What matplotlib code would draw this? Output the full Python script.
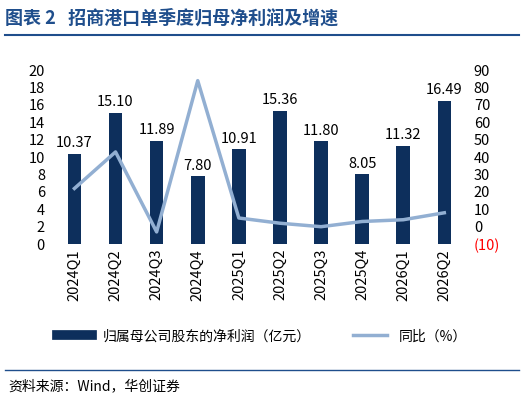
import matplotlib.pyplot as plt
from matplotlib.lines import Line2D

plt.rcParams['font.family'] = ['Noto Sans CJK SC', 'DejaVu Sans']

quarters = ['2024Q1', '2024Q2', '2024Q3', '2024Q4', '2025Q1', '2025Q2',
            '2025Q3', '2025Q4', '2026Q1', '2026Q2']
profit = [10.37, 15.10, 11.89, 7.80, 10.91, 15.36, 11.80, 8.05, 11.32, 16.49]
yoy = [22, 43, -3, 84, 5, 2, 0, 3, 4, 8]

bar_c = '#0D2F5C'
line_c = '#92AFD2'
title_c = '#1F4E8C'

fig = plt.figure(figsize=(5.24, 4.13), dpi=100)
ax = fig.add_axes([0.095, 0.409, 0.80, 0.421])
x = range(len(quarters))
ax.bar(x, profit, width=0.33, color=bar_c)
for i, v in enumerate(profit):
    ax.text(i, v + 0.4, f'{v:.2f}', ha='center', va='bottom', fontsize=10.5)
ax.set_ylim(0, 20)
ax.set_yticks(range(0, 21, 2))
ax.set_xlim(-0.6, len(quarters) - 0.4)
ax.set_xticks(list(x))
ax.set_xticklabels(quarters, rotation=90, fontsize=10)
for s in ax.spines.values():
    s.set_visible(False)
ax.tick_params(length=0, labelsize=10.5)

ax2 = ax.twinx()
ax2.plot(x, yoy, color=line_c, lw=2.5)
ax2.set_ylim(-10, 90)
ax2.set_yticks(range(-10, 91, 10))
ax2.set_yticklabels(['(10)'] + [str(t) for t in range(0, 91, 10)], fontsize=10.5)
ax2.get_yticklabels()[0].set_color('red')
for s in ax2.spines.values():
    s.set_visible(False)
ax2.tick_params(length=0)

handles = [Line2D([], [], color=bar_c, lw=7), Line2D([], [], color=line_c, lw=2.5)]
fig.legend(handles, ['归属母公司股东的净利润（亿元）', '同比（%）'], loc='center',
           bbox_to_anchor=(0.5, 0.186), ncol=2, frameon=False, fontsize=10,
           handlelength=2.5, columnspacing=3)

fig.text(0.01, 0.955, '图表 2   招商港口单季度归母净利润及增速', fontsize=13,
         fontweight='bold', color=title_c, va='center')
fig.add_artist(Line2D([0.01, 0.99], [0.915, 0.915], color=title_c, lw=1.5))
fig.add_artist(Line2D([0.01, 0.99], [0.105, 0.105], color=title_c, lw=1))
fig.text(0.015, 0.065, '资料来源：Wind，华创证券', fontsize=10, style='italic', va='center')

fig.savefig('out.png', dpi=100)
